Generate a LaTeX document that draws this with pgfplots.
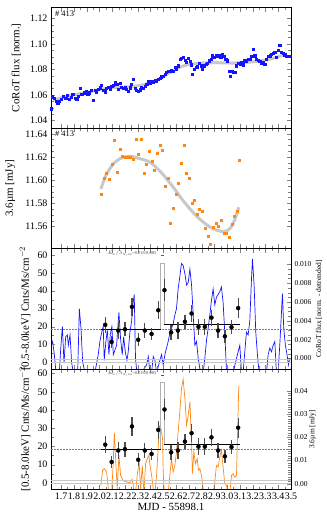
\documentclass[border=0pt]{standalone}
\usepackage{fontspec}
\setmainfont{Liberation Serif}
\usepackage{pgfplots}
\pgfplotsset{compat=1.18}

\definecolor{corotblue}{RGB}{20,20,255}
\definecolor{spitzor}{RGB}{255,135,20}
\definecolor{fitgray}{RGB}{200,200,200}

\pgfplotsset{
  panel/.style={
    scale only axis, width=240bp, height=120.5bp,
    xmin=1.62, xmax=3.5,
    xtick={1.7,1.8,1.9,2.0,2.1,2.2,2.3,2.4,2.5,2.6,2.7,2.8,2.9,3.0,3.1,3.2,3.3,3.4,3.5},
    minor x tick num=1,
    tick align=inside,
    /pgf/number format/assume math mode=true,
    tick label style={font=\fontsize{10}{12}\selectfont},
    ylabel style={font=\fontsize{11}{13}\selectfont},
    scaled y ticks=false,
    clip=true,
  },
  noxlabels/.style={xticklabels={}},
  rightaxis/.style={
    scale only axis, width=240bp, height=120.5bp,
    xmin=1.62, xmax=3.5,
    hide x axis, axis y line*=right, tick align=inside,
    scaled y ticks=false,
    /pgf/number format/assume math mode=true,
    yticklabel style={font=\fontsize{7.5}{9}\selectfont},
    ylabel style={font=\fontsize{7.5}{9}\selectfont, at={(axis description cs:1.117,0.5)}, anchor=center},
  },
}

% binned Chandra count rate (MJD-55898.1, rate, error)
\pgfplotstableread{
x y e
2.045 21.0 4.5
2.095 11.5 3.5
2.147 17.8 4.5
2.199 18.5 4.0
2.254 31.0 5.2
2.303 12.7 3.5
2.355 17.8 4.0
2.408 15.9 3.5
2.460 29.1 5.0
2.509 40.3 6.0
2.561 16.8 4.0
2.614 17.8 4.5
2.669 22.7 4.0
2.721 27.3 5.0
2.775 19.9 4.5
2.825 19.9 4.5
2.877 25.0 4.5
2.929 17.8 4.0
2.982 14.6 3.5
3.034 19.7 4.0
3.086 30.3 5.5
}\chandra

\begin{document}
\begin{tikzpicture}

% ---------- panel 1: CoRoT ----------
\begin{axis}[panel, noxlabels, at={(0,361.5bp)}, anchor=south west,
  ymin=1.034, ymax=1.1286,
  ytick={1.04,1.06,1.08,1.10,1.12}, minor y tick num=3,
  yticklabel style={/pgf/number format/.cd, fixed, fixed zerofill, precision=2},
  ylabel={CoRoT flux [norm.]},
  ylabel style={at={(axis description cs:-0.145,0.5)}, anchor=center},
]
\addplot[fitgray, line width=3pt, smooth] coordinates {
(1.64,1.0560)(1.75,1.0590)(1.85,1.0610)(1.95,1.0630)(2.05,1.0650)(2.15,1.0660)
(2.25,1.0665)(2.35,1.0680)(2.45,1.0715)(2.55,1.0775)(2.65,1.0825)(2.75,1.0845)
(2.85,1.0852)(2.95,1.0852)(3.05,1.0850)(3.15,1.0855)(3.25,1.0865)(3.35,1.0885)(3.44,1.0912)
};
\addplot[only marks, mark=square*, mark size=1.1pt, corotblue] coordinates {
(1.620,1.0492)(1.630,1.0585)(1.646,1.0577)(1.659,1.0551)(1.672,1.0537)(1.685,1.0551)
(1.703,1.0564)(1.717,1.0590)(1.735,1.0577)(1.750,1.0596)(1.763,1.0569)(1.776,1.0583)
(1.790,1.0604)(1.808,1.0577)(1.821,1.0564)(1.834,1.0590)(1.847,1.0651)(1.860,1.0604)
(1.878,1.0617)(1.894,1.0630)(1.907,1.0609)(1.920,1.0617)(1.933,1.0636)(1.951,1.0559)
(1.964,1.0636)(1.977,1.0625)(1.990,1.0643)(2.003,1.0657)(2.016,1.0678)(2.029,1.0636)
(2.043,1.0625)(2.050,1.0651)(2.069,1.0662)(2.082,1.0643)(2.095,1.0670)(2.108,1.0678)
(2.121,1.0696)(2.134,1.0683)(2.147,1.0643)(2.160,1.0689)(2.173,1.0662)(2.186,1.0651)
(2.199,1.0662)(2.212,1.0643)(2.225,1.0630)(2.238,1.0657)(2.251,1.0683)(2.264,1.0723)
(2.277,1.0651)(2.290,1.0636)(2.303,1.0630)(2.316,1.0641)(2.329,1.0662)(2.342,1.0651)
(2.355,1.0670)(2.369,1.0683)(2.382,1.0704)(2.395,1.0696)(2.408,1.0710)(2.421,1.0704)
(2.434,1.0715)(2.447,1.0710)(2.460,1.0723)(2.473,1.0731)(2.486,1.0742)(2.499,1.0749)
(2.512,1.0763)(2.525,1.0776)(2.538,1.0784)(2.551,1.0789)(2.564,1.0795)(2.577,1.0789)
(2.590,1.0816)(2.603,1.0802)(2.616,1.0829)(2.629,1.0882)(2.642,1.0890)(2.655,1.0895)
(2.669,1.0874)(2.682,1.0855)(2.695,1.0890)(2.708,1.0863)(2.721,1.0837)(2.728,1.0763)
(2.742,1.0802)(2.755,1.0816)(2.768,1.0821)(2.781,1.0850)(2.794,1.0829)(2.807,1.0802)
(2.820,1.0829)(2.833,1.0842)(2.846,1.0848)(2.859,1.0869)(2.872,1.0882)(2.885,1.0908)
(2.898,1.0895)(2.911,1.0908)(2.924,1.0901)(2.937,1.0914)(2.950,1.0895)(2.963,1.0922)
(2.976,1.0901)(2.989,1.0882)(3.002,1.0869)(3.015,1.0789)(3.026,1.0749)(3.036,1.0789)
(3.047,1.0776)(3.060,1.0781)(3.073,1.0829)(3.086,1.0848)(3.099,1.0842)(3.112,1.0855)
(3.125,1.0837)(3.138,1.0869)(3.151,1.0869)(3.164,1.0882)(3.177,1.0882)(3.190,1.0901)
(3.203,1.0961)(3.216,1.0908)(3.229,1.0882)(3.242,1.0874)(3.255,1.0863)(3.268,1.0848)
(3.281,1.0855)(3.294,1.0842)(3.308,1.0882)(3.321,1.0901)(3.334,1.0908)(3.347,1.0922)
(3.360,1.0927)(3.373,1.0935)(3.386,1.0895)(3.399,1.0948)(3.412,1.0993)(3.425,1.0935)
(3.438,1.0927)(3.451,1.0916)(3.464,1.0901)(3.477,1.0903)(3.490,1.0901)
};
\node[anchor=north west, inner sep=1pt, font=\fontsize{8.5}{9}\selectfont] at (rel axis cs:0.012,0.985) {\# 413};
\end{axis}

% ---------- panel 2: Spitzer 3.6 micron ----------
\begin{axis}[panel, noxlabels, at={(0,241bp)}, anchor=south west,
  ymin=11.541, ymax=11.645,
  ytick={11.56,11.58,11.60,11.62,11.64}, minor y tick num=3,
  yticklabel style={/pgf/number format/.cd, fixed, fixed zerofill, precision=2},
  ylabel={3.6µm [mJy]},
  ylabel style={at={(axis description cs:-0.17,0.5)}, anchor=center},
]
\addplot[fitgray, line width=3pt, smooth] coordinates {
(2.011,11.5925)(2.05,11.604)(2.108,11.614)(2.17,11.619)(2.238,11.6207)(2.30,11.619)
(2.395,11.6155)(2.48,11.607)(2.577,11.594)(2.65,11.583)(2.734,11.572)(2.81,11.564)
(2.890,11.558)(2.969,11.5556)(3.02,11.558)(3.06,11.566)(3.091,11.5766)
};
\addplot[only marks, mark=square*, mark size=1.0pt, spitzor] coordinates {
(2.011,11.588)(2.037,11.6017)(2.056,11.606)(2.076,11.601)(2.100,11.6135)(2.118,11.6345)
(2.139,11.6066)(2.160,11.6265)(2.181,11.6204)(2.202,11.6195)(2.222,11.6195)(2.243,11.620)
(2.264,11.618)(2.285,11.6354)(2.306,11.6227)(2.327,11.635)(2.348,11.606)(2.369,11.614)
(2.389,11.625)(2.410,11.616)(2.431,11.609)(2.452,11.6236)(2.473,11.630)(2.494,11.626)
(2.515,11.595)(2.535,11.602)(2.556,11.563)(2.577,11.576)(2.598,11.588)(2.619,11.597)
(2.640,11.615)(2.661,11.630)(2.682,11.606)(2.702,11.602)(2.723,11.580)(2.744,11.583)
(2.765,11.571)(2.781,11.575)(2.807,11.573)(2.828,11.5585)(2.848,11.552)(2.869,11.545)
(2.890,11.559)(2.911,11.5625)(2.932,11.560)(2.953,11.565)(2.974,11.554)(2.995,11.554)
(3.015,11.551)(3.036,11.562)(3.057,11.569)(3.078,11.5735)(3.091,11.617)
};
\node[anchor=north west, inner sep=1pt, font=\fontsize{8.5}{9}\selectfont] at (rel axis cs:0.012,0.985) {\# 413};
\end{axis}

% ---------- panel 3: CoRoT detrended (right) ----------
\begin{axis}[rightaxis, at={(0,120.5bp)}, anchor=south west,
  ymin=-0.00113, ymax=0.0117,
  ytick={0,0.002,0.004,0.006,0.008,0.010}, minor y tick num=3,
  yticklabel style={/pgf/number format/.cd, fixed, fixed zerofill, precision=3},
  ylabel={CoRoT flux [norm. - detrended]},
]
\addplot[corotblue, line width=0.7pt] coordinates {
(1.620,0.0014)(1.633,0.0018)(1.646,0.0004)(1.659,-0.0015)(1.685,-0.0015)(1.698,0.0014)
(1.709,0.0034)(1.722,-0.0005)(1.735,0.0023)(1.748,0.0025)(1.756,0.0014)(1.769,0.0025)
(1.782,-0.0005)(1.795,-0.0015)(1.829,-0.0015)(1.842,0.0053)(1.855,0.0032)(1.868,-0.0004)
(1.886,-0.0015)(1.925,-0.0015)(1.964,-0.0015)(1.990,0.0004)(2.003,0.0018)(2.016,0.0027)
(2.029,0.0034)(2.037,-0.0002)(2.050,0.0018)(2.061,0.0030)(2.074,0.0004)(2.084,0.0025)
(2.097,0.0034)(2.108,0.0004)(2.121,0.0009)(2.134,0.0014)(2.144,0.0034)(2.152,0.0049)
(2.165,0.0021)(2.178,0.0004)(2.189,0.0023)(2.202,0.0007)(2.215,-0.0002)(2.225,0.0007)
(2.238,0.0028)(2.251,0.0039)(2.264,0.0060)(2.272,0.0068)(2.282,0.0000)(2.290,-0.0011)
(2.329,-0.0015)(2.369,-0.0007)(2.382,0.0002)(2.395,-0.0015)(2.408,-0.0015)(2.421,0.0002)
(2.434,-0.0002)(2.447,-0.0015)(2.460,-0.0009)(2.473,-0.0002)(2.486,0.0004)(2.499,-0.0007)
(2.512,0.0004)(2.525,0.0011)(2.538,0.0018)(2.551,0.0027)(2.564,0.0032)(2.577,0.0037)
(2.590,0.0046)(2.603,0.0053)(2.616,0.0074)(2.629,0.0087)(2.642,0.0101)(2.655,0.0099)
(2.669,0.0090)(2.682,0.0078)(2.695,0.0081)(2.708,0.0095)(2.721,0.0078)(2.734,0.0046)
(2.747,0.0014)(2.760,0.0018)(2.773,0.0000)(2.786,-0.0011)(2.812,-0.0015)(2.825,0.0000)
(2.838,0.0019)(2.851,0.0032)(2.864,0.0046)(2.877,0.0062)(2.890,0.0074)(2.903,0.0057)
(2.916,0.0065)(2.929,0.0068)(2.942,0.0071)(2.955,0.0076)(2.968,0.0060)(2.981,0.0028)
(2.994,-0.0011)(3.021,-0.0015)(3.047,-0.0015)(3.073,0.0000)(3.086,0.0007)(3.099,0.0014)
(3.112,-0.0015)(3.125,-0.0015)(3.138,0.0007)(3.151,0.0028)(3.164,0.0025)(3.177,0.0039)
(3.190,0.0083)(3.198,0.0106)(3.211,0.0078)(3.224,0.0028)(3.237,0.0004)(3.250,-0.0015)
(3.281,-0.0015)(3.308,-0.0015)(3.321,0.0004)(3.334,0.0011)(3.347,0.0007)(3.360,0.0014)
(3.373,0.0018)(3.386,-0.0015)(3.399,-0.0015)(3.412,0.0014)(3.425,0.0048)(3.433,0.0069)
(3.443,0.0032)(3.456,0.0014)(3.469,0.0004)(3.480,-0.0007)(3.490,0.0000)
};
\end{axis}

% ---------- panel 3: X-ray counts (left) ----------
\begin{axis}[panel, noxlabels, at={(0,120.5bp)}, anchor=south west,
  ymin=-3.6, ymax=63.5, ytick pos=left,
  ytick={0,10,20,30,40,50,60}, minor y tick num=1,
  ylabel={[0.5-8.0keV] Cnts/Ms/cm$^{-2}$},
  ylabel style={at={(axis description cs:-0.108,0.5)}, anchor=center},
]
\addplot[gray!45, line width=0.6pt] coordinates {(1.62,0)(3.5,0)};
\addplot[gray!45, line width=0.6pt] coordinates {(1.62,1.7)(3.5,1.7)};
\addplot[gray, densely dotted, line width=0.5pt] coordinates {(1.62,18.5)(3.5,18.5)};
\addplot[gray!60, line width=0.9pt] coordinates {(2.480,18.2)(2.480,55)(2.507,55)(2.507,21.0)};
\addplot[black, line width=1.1pt] coordinates {(2.011,18.2)(2.480,18.2)};
\addplot[black, line width=1.1pt] coordinates {(2.507,21.0)(3.104,21.0)};
\addplot[magenta, line width=1pt] coordinates {(2.484,59.7)(2.504,59.7)};
\addplot[only marks, mark=*, mark size=2pt, black,
  error bars/.cd, y dir=both, y explicit, error mark=none,
  error bar style={line width=1.3pt, black!70}]
  table[x=x, y=y, y error=e] {\chandra};
\node[font=\fontsize{4.5}{5}\selectfont, black!70] at (axis cs:2.254,60.6) {$E_{\rm in}/\lambda_{\rm in,out}$=0.216/0.085};
\end{axis}

% ---------- panel 4: 3.6 micron detrended (right) ----------
\begin{axis}[rightaxis, at={(0,0)}, anchor=south west,
  ymin=-0.0025, ymax=0.0494,
  ytick={0,0.01,0.02,0.03,0.04}, minor y tick num=9,
  yticklabel style={/pgf/number format/.cd, fixed, fixed zerofill, precision=2},
  ylabel={3.6µm [mJy]},
  ylabel style={at={(axis description cs:1.09,0.5)}},
]
\addplot[spitzor, line width=0.7pt] coordinates {
(2.011,-0.0007)(2.024,0.0058)(2.037,0.0065)(2.056,0.0050)(2.069,-0.0022)(2.082,-0.0040)
(2.095,-0.0040)(2.108,0.0094)(2.116,0.0220)(2.129,0.0079)(2.139,-0.0022)(2.152,0.0122)
(2.165,0.0036)(2.178,0.0022)(2.191,0.0010)(2.204,0.0010)(2.217,0.0007)(2.230,0.0004)
(2.243,0.0007)(2.256,0.0019)(2.264,-0.0007)(2.269,-0.0040)(2.282,-0.0040)(2.298,0.0050)
(2.311,0.0086)(2.322,-0.0022)(2.335,0.0079)(2.348,-0.0040)(2.361,0.0086)(2.374,0.0108)
(2.387,0.0122)(2.395,0.0079)(2.408,0.0036)(2.421,-0.0022)(2.434,-0.0040)(2.447,0.0036)
(2.460,0.0158)(2.468,0.0249)(2.481,0.0237)(2.494,0.0194)(2.499,0.0050)(2.507,-0.0040)
(2.538,-0.0040)(2.551,0.0036)(2.564,0.0108)(2.577,0.0050)(2.590,0.0079)(2.603,0.0137)
(2.616,0.0223)(2.629,0.0309)(2.642,0.0410)(2.655,0.0450)(2.669,0.0367)(2.682,0.0252)
(2.695,0.0295)(2.708,0.0353)(2.721,0.0180)(2.728,0.0043)(2.739,0.0137)(2.752,0.0086)
(2.765,0.0108)(2.775,0.0058)(2.786,0.0065)(2.799,0.0036)(2.812,-0.0022)(2.825,-0.0040)
(2.890,-0.0040)(2.903,0.0007)(2.916,0.0079)(2.929,0.0072)(2.942,0.0115)(2.955,0.0144)
(2.968,0.0072)(2.981,0.0000)(2.994,-0.0007)(3.008,-0.0040)(3.021,-0.0040)(3.034,0.0036)
(3.047,0.0043)(3.060,0.0029)(3.073,0.0036)(3.091,0.0420)
};
\end{axis}

% ---------- panel 4: X-ray counts (left) ----------
\begin{axis}[panel, at={(0,0)}, anchor=south west,
  ymin=-3.6, ymax=62.5, ytick pos=left,
  ytick={0,10,20,30,40,50,60}, minor y tick num=1,
  xticklabel style={/pgf/number format/.cd, fixed, fixed zerofill, precision=1},
  ylabel={[0.5-8.0keV] Cnts/Ms/cm$^{-2}$},
  ylabel style={at={(axis description cs:-0.108,0.5)}, anchor=center},
  xlabel={MJD - 55898.1},
  xlabel style={font=\fontsize{11}{13}\selectfont, yshift=3bp},
]
\addplot[gray!45, line width=0.6pt] coordinates {(1.62,0)(3.5,0)};
\addplot[gray!45, line width=0.6pt] coordinates {(1.62,1.7)(3.5,1.7)};
\addplot[gray, densely dotted, line width=0.5pt] coordinates {(1.62,18.5)(3.5,18.5)};
\addplot[gray!60, line width=0.9pt] coordinates {(2.480,18.2)(2.480,55)(2.507,55)(2.507,21.0)};
\addplot[black, line width=1.1pt] coordinates {(2.011,18.2)(2.480,18.2)};
\addplot[black, line width=1.1pt] coordinates {(2.507,21.0)(3.104,21.0)};
\addplot[magenta, line width=1pt] coordinates {(2.484,59)(2.504,59)};
\addplot[only marks, mark=*, mark size=2pt, black,
  error bars/.cd, y dir=both, y explicit, error mark=none,
  error bar style={line width=1.3pt, black!70}]
  table[x=x, y=y, y error=e] {\chandra};
\node[font=\fontsize{4.5}{5}\selectfont, black!70] at (axis cs:2.254,59.8) {$E_{\rm in}/\lambda_{\rm in,out}$=0.216/0.085};
\end{axis}

\pgfresetboundingbox
\path[use as bounding box] (-51bp,-33.5bp) rectangle (276bp,489.5bp);
\end{tikzpicture}
\end{document}
